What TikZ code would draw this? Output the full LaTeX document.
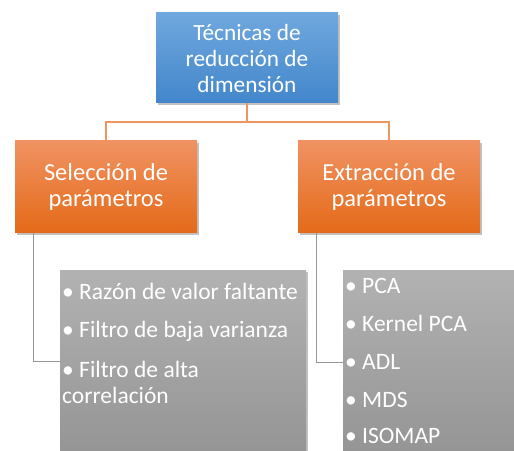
\documentclass[tikz,border=0pt]{standalone}
\usepackage{fontspec}
\setmainfont{Carlito}
\usetikzlibrary{shadows}
\definecolor{bluetop}{RGB}{112,168,222}
\definecolor{bluebot}{RGB}{66,134,203}
\definecolor{orgtop}{RGB}{240,146,98}
\definecolor{orgbot}{RGB}{228,106,24}
\definecolor{graytop}{RGB}{178,178,178}
\definecolor{graybot}{RGB}{146,146,146}
\definecolor{orgline}{RGB}{240,148,96}
\definecolor{grayline}{RGB}{150,150,150}
\tikzset{
  x=1pt,y=1pt,
  shad/.style={drop shadow={shadow xshift=1.5pt,shadow yshift=-2pt,opacity=0.35,fill=black!70}},
  boxbase/.style={rectangle,inner sep=0pt,text=white,align=center,shad},
  topbox/.style={boxbase,minimum width=182pt,minimum height=90pt,top color=bluetop,bottom color=bluebot,
     font=\fontsize{23.3}{26}\selectfont},
  midbox/.style={boxbase,minimum width=182pt,minimum height=92pt,top color=orgtop,bottom color=orgbot,
     font=\fontsize{24.5}{26.5}\selectfont},
  listbox/.style={rectangle,inner sep=0pt,top color=graytop,bottom color=graybot,shad},
  item/.style={anchor=base west,inner sep=0pt,text=white,font=\fontsize{23.5}{26}\selectfont},
  orgconn/.style={draw=orgline,line width=1.2pt},
  grayconn/.style={draw=grayline,line width=1pt}
}
\begin{document}
\begin{tikzpicture}
\useasboundingbox (0,0) rectangle (514,450);
\begin{scope}
\clip (0,0) rectangle (514,450);
% gray list boxes
\node[listbox,minimum width=246pt,minimum height=200pt,anchor=north west] (l1) at (60,180) {};
\node[listbox,minimum width=190pt,minimum height=200pt,anchor=north west] (l2) at (343,180) {};
\end{scope}
% main boxes
\node[topbox] (top) at (247,392) {Técnicas de\\reducción de\\dimensión};
\node[midbox] (sel) at (106,263) {Selección de\\parámetros};
\node[midbox] (ext) at (389,263) {Extracción de\\parámetros};
% connectors
\coordinate (bus) at (247,328);
\draw[orgconn] (top.south) -- (bus);
\draw[orgconn] (bus) -| (sel.north);
\draw[orgconn] (bus) -| (ext.north);
\coordinate (g1) at (60,88);
\coordinate (g2) at (343,87);
\draw[grayconn] ([xshift=-73pt]sel.south) |- (g1);
\draw[grayconn] ([xshift=-73pt]ext.south) |- (g2);
% list items
\node[item] (a1) at (62,150) {• Razón de valor faltante};
\node[item] (a2) at (62,112) {• Filtro de baja varianza};
\node[item] (a3) at (62,73) {• Filtro de alta};
\node[item] (a4) at (62,47) {correlación};
\node[item] (b1) at (345,156) {• PCA};
\node[item] (b2) at (345,118) {• Kernel PCA};
\node[item] (b3) at (345,81) {• ADL};
\node[item] (b4) at (345,43) {• MDS};
\node[item] (b5) at (345,7) {• ISOMAP};
\end{tikzpicture}
\end{document}
